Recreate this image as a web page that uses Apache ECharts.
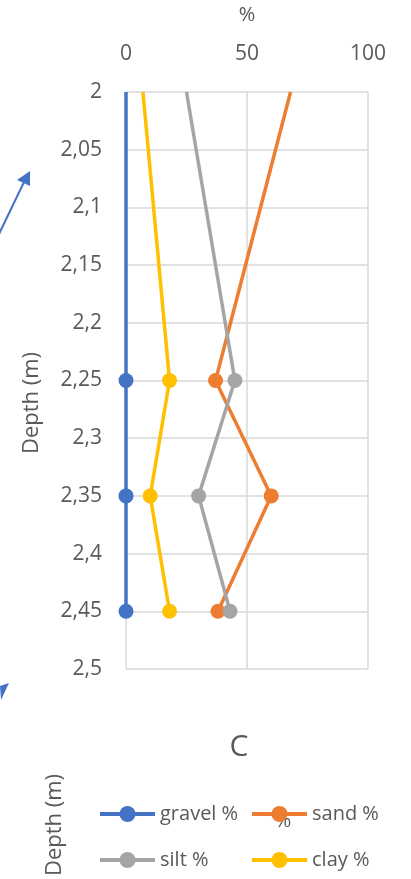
<!DOCTYPE html>
<html><head><meta charset="utf-8">
<script src="https://cdn.jsdelivr.net/npm/echarts@6/dist/echarts.min.js"></script>
<style>html,body{margin:0;padding:0;background:#fff}#c{width:411px;height:879px}</style>
</head><body><div id="c"></div>
<script>
const depths = [2, 2.25, 2.35, 2.45];
const gravel = [0, 0, 0, 0];
const sand = [68, 37, 60, 38];
const silt = [25, 45, 30, 43];
const clay = [7, 18, 10, 18];
const xTicks = [0, 50, 100];
const seriesNames = ['gravel %', 'sand %', 'silt %', 'clay %'];
const colors = ['#4472C4', '#ED7D31', '#A5A5A5', '#FFC000'];
const FONT = '"Open Sans", "Liberation Sans", sans-serif';
const TXT = '#595959';

function mk(vals) {
  return vals.map((v, i) => i === 0 ? { value: [v, depths[i]], symbol: 'none' } : { value: [v, depths[i]] });
}
const allVals = [gravel, sand, silt, clay];
const series = seriesNames.map((n, k) => ({
  name: n, type: 'line', data: mk(allVals[k]), symbol: 'circle', symbolSize: 15,
  lineStyle: { width: 3.5, color: colors[k] }, itemStyle: { color: colors[k] },
  emphasis: { disabled: true }, z: 2 + k
}));
const legendPos = [[93, 799], [245, 799], [93, 845], [245, 845]];
const legends = seriesNames.map((n, k) => ({
  data: [n], left: legendPos[k][0], top: legendPos[k][1], itemWidth: 55, itemHeight: 20, itemGap: 5,
  lineStyle: { width: 4 },
  textStyle: { color: TXT, fontSize: 20, fontFamily: FONT }, selectedMode: false
}));

const chart = echarts.init(document.getElementById('c'), null, { renderer: 'canvas' });
chart.setOption({
  animation: false,
  backgroundColor: '#fff',
  grid: { left: 126, right: 43, top: 82, bottom: 210, containLabel: false },
  xAxis: {
    type: 'value', position: 'top', min: xTicks[0], max: xTicks[xTicks.length - 1], interval: 50,
    name: '%', nameLocation: 'middle', nameGap: 67,
    nameTextStyle: { color: TXT, fontSize: 20, fontFamily: FONT },
    axisLine: { show: false }, axisTick: { show: false },
    axisLabel: { color: TXT, fontSize: 21, fontFamily: FONT, margin: 27 },
    splitLine: { show: true, lineStyle: { color: '#d9d9d9', width: 1.5 } }
  },
  yAxis: {
    type: 'value', inverse: true, min: 2, max: 2.5, interval: 0.05,
    axisLine: { show: false }, axisTick: { show: false },
    axisLabel: { color: TXT, fontSize: 21, fontFamily: FONT, margin: 24,
      formatter: v => String(Math.round(v * 100) / 100).replace('.', ',') },
    splitLine: { show: true, lineStyle: { color: '#d9d9d9', width: 1.5 } }
  },
  legend: legends,
  series: series,
  graphic: [
    { type: 'text', x: 32, y: 403, rotation: Math.PI / 2, style: { text: 'Depth (m)', fill: TXT, fontSize: 22, fontFamily: FONT, align: 'center', verticalAlign: 'middle' } },
    { type: 'text', x: 239, y: 747, style: { text: 'C', fill: TXT, fontSize: 30, fontFamily: FONT, align: 'center', verticalAlign: 'middle' } },
    { type: 'text', x: 55, y: 825, rotation: Math.PI / 2, style: { text: 'Depth (m)', fill: TXT, fontSize: 22, fontFamily: FONT, align: 'center', verticalAlign: 'middle' } },
    { type: 'text', x: 283, y: 821, style: { text: '%', fill: TXT, fontSize: 20, fontFamily: FONT, align: 'center', verticalAlign: 'middle' } },
    { type: 'line', shape: { x1: -2, y1: 236, x2: 25, y2: 180 }, style: { stroke: '#4472C4', lineWidth: 2 } },
    { type: 'polygon', shape: { points: [[30, 171], [17, 180], [30, 186]] }, style: { fill: '#4472C4' } },
    { type: 'polygon', shape: { points: [[0, 686], [9, 683], [1, 700]] }, style: { fill: '#4472C4' } }
  ]
});
</script></body></html>
